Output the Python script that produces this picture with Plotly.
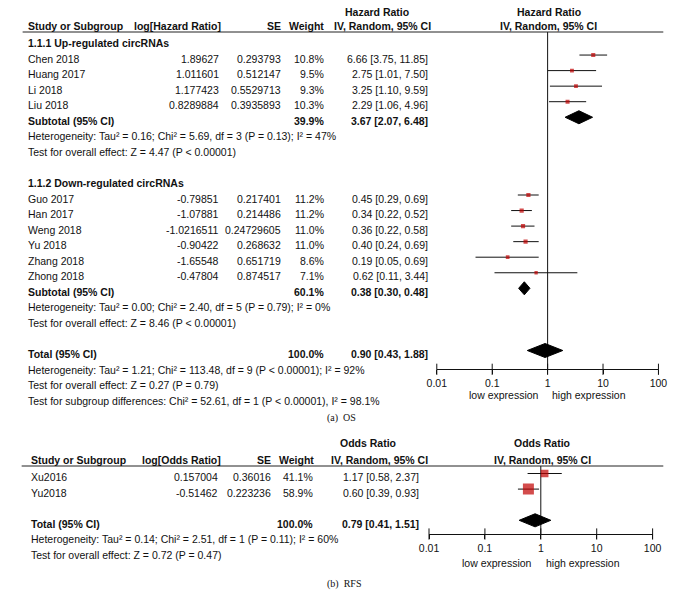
import plotly.graph_objects as go

# ---------------- data: (a) OS ----------------
up_studies = ["Chen 2018", "Huang 2017", "Li 2018", "Liu 2018"]
up_loghr = [1.89627, 1.011601, 1.177423, 0.8289884]
up_se = [0.293793, 0.512147, 0.5529713, 0.3935893]
up_weight = [10.8, 9.5, 9.3, 10.3]
up_hr = [6.66, 2.75, 3.25, 2.29]
up_lo = [3.75, 1.01, 1.10, 1.06]
up_hi = [11.85, 7.50, 9.59, 4.96]
up_sub = [3.67, 2.07, 6.48]
up_sub_weight = 39.9

down_studies = ["Guo 2017", "Han 2017", "Weng 2018", "Yu 2018", "Zhang 2018", "Zhong 2018"]
down_loghr = [-0.79851, -1.07881, -1.0216511, -0.90422, -1.65548, -0.47804]
down_se = [0.217401, 0.214486, 0.24729605, 0.268632, 0.651719, 0.874517]
down_weight = [11.2, 11.2, 11.0, 11.0, 8.6, 7.1]
down_hr = [0.45, 0.34, 0.36, 0.40, 0.19, 0.62]
down_lo = [0.29, 0.22, 0.22, 0.24, 0.05, 0.11]
down_hi = [0.69, 0.52, 0.58, 0.69, 0.69, 3.44]
down_sub = [0.38, 0.30, 0.48]
down_sub_weight = 60.1

os_total = [0.90, 0.43, 1.88]
os_total_weight = 100.0

up_stats = ["Heterogeneity: Tau² = 0.16; Chi² = 5.69, df = 3 (P = 0.13); I² = 47%",
            "Test for overall effect: Z = 4.47 (P < 0.00001)"]
down_stats = ["Heterogeneity: Tau² = 0.00; Chi² = 2.40, df = 5 (P = 0.79); I² = 0%",
              "Test for overall effect: Z = 8.46 (P < 0.00001)"]
os_stats = ["Heterogeneity: Tau² = 1.21; Chi² = 113.48, df = 9 (P < 0.00001); I² = 92%",
            "Test for overall effect: Z = 0.27 (P = 0.79)",
            "Test for subgroup differences: Chi² = 52.61, df = 1 (P < 0.00001), I² = 98.1%"]

# ---------------- data: (b) RFS ----------------
rfs_studies = ["Xu2016", "Yu2018"]
rfs_logor = [0.157004, -0.51462]
rfs_se = [0.36016, 0.223236]
rfs_weight = [41.1, 58.9]
rfs_or = [1.17, 0.60]
rfs_lo = [0.58, 0.39]
rfs_hi = [2.37, 0.93]
rfs_total = [0.79, 0.41, 1.51]
rfs_total_weight = 100.0
rfs_stats = ["Heterogeneity: Tau² = 0.14; Chi² = 2.51, df = 1 (P = 0.11); I² = 60%",
             "Test for overall effect: Z = 0.72 (P = 0.47)"]

tick_vals = [0.01, 0.1, 1, 10, 100]
tick_text = ["0.01", "0.1", "1", "10", "100"]

# ---------------- layout helpers ----------------
W, H = 683, 606
FONT = "Liberation Sans, Arial, sans-serif"
FS = 10.5
RED = "#C00000"

def px(x):
    return x / W

def py(y):
    return 1 - y / H

annotations = []

def txt(x, y, s, anchor="left", bold=False, size=FS, family=FONT):
    annotations.append(dict(
        x=px(x), y=py(y), xref="paper", yref="paper", text=s, showarrow=False,
        xanchor=anchor, yanchor="middle", borderpad=0,
        font=dict(family=family, size=size, color="#111", weight="bold" if bold else "normal")))

def ci_str(e, l, h):
    return f"{e:.2f} [{l:.2f}, {h:.2f}]"

fig = go.Figure()

# ---------- panel (a) geometry ----------
A_ROW0, A_STEP, A_OFF = 43.0, 15.55, 3.5
A_TOP, A_BOT = 32.0, 369.3
def a_row_px(r):
    return A_ROW0 + A_STEP * r
a_rtop = (A_TOP - (A_ROW0 - A_OFF)) / A_STEP
a_rbot = (A_BOT - (A_ROW0 - A_OFF)) / A_STEP

# ---------- panel (b) geometry ----------
B_ROW0, B_STEP, B_OFF = 477.0, 15.6, 3.5
B_TOP, B_BOT = 466.0, 534.0
def b_row_px(r):
    return B_ROW0 + B_STEP * r
b_rtop = (B_TOP - (B_ROW0 - B_OFF)) / B_STEP
b_rbot = (B_BOT - (B_ROW0 - B_OFF)) / B_STEP

# ---------- text table (a) ----------
A_COL = dict(study=17, log=216, se=280, w=324, ci=431)
txt(377, 12, "Hazard Ratio", "center", bold=True)
txt(554, 12, "Hazard Ratio", "center", bold=True)
txt(A_COL["study"], 25.5, "Study or Subgroup", "left", bold=True)
txt(218, 25.5, "log[Hazard Ratio]", "right", bold=True)
txt(A_COL["se"], 25.5, "SE", "right", bold=True)
txt(A_COL["w"], 25.5, "Weight", "right", bold=True)
txt(434, 25.5, "IV, Random, 95% CI", "right", bold=True)
txt(554, 25.5, "IV, Random, 95% CI", "center", bold=True)

txt(A_COL["study"], a_row_px(0), "1.1.1 Up-regulated circRNAs", "left", bold=True)
up_rows = [1, 2, 3, 4]
for i, r in enumerate(up_rows):
    y = a_row_px(r)
    txt(A_COL["study"], y, up_studies[i])
    txt(A_COL["log"], y, str(up_loghr[i]), "right")
    txt(A_COL["se"], y, str(up_se[i]), "right")
    txt(A_COL["w"], y, f"{up_weight[i]:.1f}%", "right")
    txt(A_COL["ci"], y, ci_str(up_hr[i], up_lo[i], up_hi[i]), "right")
txt(A_COL["study"], a_row_px(5), "Subtotal (95% CI)", "left", bold=True)
txt(A_COL["w"], a_row_px(5), f"{up_sub_weight:.1f}%", "right", bold=True)
txt(A_COL["ci"], a_row_px(5), ci_str(*up_sub), "right", bold=True)
for k, s in enumerate(up_stats):
    txt(A_COL["study"], a_row_px(6 + k), s)

txt(A_COL["study"], a_row_px(9), "1.1.2 Down-regulated circRNAs", "left", bold=True)
down_rows = [10, 11, 12, 13, 14, 15]
for i, r in enumerate(down_rows):
    y = a_row_px(r)
    txt(A_COL["study"], y, down_studies[i])
    txt(A_COL["log"], y, str(down_loghr[i]), "right")
    txt(A_COL["se"], y, str(down_se[i]), "right")
    txt(A_COL["w"], y, f"{down_weight[i]:.1f}%", "right")
    txt(A_COL["ci"], y, ci_str(down_hr[i], down_lo[i], down_hi[i]), "right")
txt(A_COL["study"], a_row_px(16), "Subtotal (95% CI)", "left", bold=True)
txt(A_COL["w"], a_row_px(16), f"{down_sub_weight:.1f}%", "right", bold=True)
txt(A_COL["ci"], a_row_px(16), ci_str(*down_sub), "right", bold=True)
for k, s in enumerate(down_stats):
    txt(A_COL["study"], a_row_px(17 + k), s)

txt(A_COL["study"], a_row_px(20), "Total (95% CI)", "left", bold=True)
txt(A_COL["w"], a_row_px(20), f"{os_total_weight:.1f}%", "right", bold=True)
txt(A_COL["ci"], a_row_px(20), ci_str(*os_total), "right", bold=True)
for k, s in enumerate(os_stats):
    txt(A_COL["study"], a_row_px(21 + k), s)

txt(545, 395, "low expression", "right")
txt(556, 395, "high expression", "left")
txt(341, 418, "(a)  OS", "center", size=10, family="Liberation Serif, Times New Roman, serif")

# ---------- text table (b) ----------
B_COL = dict(study=21, log=215, se=269, w=313, ci=422)
txt(368, 443, "Odds Ratio", "center", bold=True)
txt(547, 443, "Odds Ratio", "center", bold=True)
txt(B_COL["study"], 459.5, "Study or Subgroup", "left", bold=True)
txt(218, 459.5, "log[Odds Ratio]", "right", bold=True)
txt(B_COL["se"], 459.5, "SE", "right", bold=True)
txt(B_COL["w"] + 1, 459.5, "Weight", "right", bold=True)
txt(431, 459.5, "IV, Random, 95% CI", "right", bold=True)
txt(548, 459.5, "IV, Random, 95% CI", "center", bold=True)
for i in range(len(rfs_studies)):
    y = b_row_px(i)
    txt(B_COL["study"], y, rfs_studies[i])
    txt(B_COL["log"], y, str(rfs_logor[i]), "right")
    txt(B_COL["se"], y, str(rfs_se[i]), "right")
    txt(B_COL["w"], y, f"{rfs_weight[i]:.1f}%", "right")
    txt(B_COL["ci"], y, ci_str(rfs_or[i], rfs_lo[i], rfs_hi[i]), "right")
txt(B_COL["study"], b_row_px(3), "Total (95% CI)", "left", bold=True)
txt(B_COL["w"], b_row_px(3), f"{rfs_total_weight:.1f}%", "right", bold=True)
txt(B_COL["ci"], b_row_px(3), ci_str(*rfs_total), "right", bold=True)
for k, s in enumerate(rfs_stats):
    txt(B_COL["study"], b_row_px(4 + k), s)
txt(538, 563, "low expression", "right")
txt(550, 563, "high expression", "left")
txt(344, 584, "(b)  RFS", "center", size=10, family="Liberation Serif, Times New Roman, serif")

# ---------- header rules ----------
shapes = [
    dict(type="line", xref="paper", yref="paper", x0=px(13), x1=px(672), y0=py(32), y1=py(32),
         line=dict(color="#222", width=1)),
    dict(type="line", xref="paper", yref="paper", x0=px(12), x1=px(672), y0=py(466), y1=py(466),
         line=dict(color="#222", width=1)),
]

# ---------- graphics helpers ----------
def add_ci(xax, yax, est, lo, hi, rows, sizes):
    for e, l, h, r in zip(est, lo, hi, rows):
        fig.add_trace(go.Scatter(x=[l, h], y=[r, r], mode="lines", xaxis=xax, yaxis=yax,
                                 line=dict(color="#111", width=1), hoverinfo="skip", showlegend=False))
    fig.add_trace(go.Scatter(x=est, y=rows, mode="markers", xaxis=xax, yaxis=yax,
                             marker=dict(symbol="square", size=sizes, color=RED, line=dict(width=0)),
                             showlegend=False))

def add_diamond(xax, yax, est, lo, hi, r, hh):
    fig.add_trace(go.Scatter(x=[lo, est, hi, est, lo], y=[r, r - hh, r, r + hh, r],
                             mode="lines", fill="toself", fillcolor="black", xaxis=xax, yaxis=yax,
                             line=dict(color="black", width=1), hoverinfo="skip", showlegend=False))

def add_axis_frame(xax, yax, rtop, rbot):
    fig.add_trace(go.Scatter(x=[1, 1], y=[rtop, rbot], mode="lines", xaxis=xax, yaxis=yax,
                             line=dict(color="#111", width=1), hoverinfo="skip", showlegend=False))
    fig.add_trace(go.Scatter(x=tick_vals, y=[rbot] * len(tick_vals), mode="markers", xaxis=xax, yaxis=yax,
                             marker=dict(symbol="line-ns", size=8, line=dict(color="#111", width=1)),
                             cliponaxis=False, hoverinfo="skip", showlegend=False))

# panel (a)
add_axis_frame("x", "y", a_rtop, a_rbot)
amax = max(up_weight + down_weight)
add_ci("x", "y", up_hr, up_lo, up_hi, up_rows, [4.2 * (w / amax) ** 0.5 for w in up_weight])
add_diamond("x", "y", up_sub[0], up_sub[1], up_sub[2], 5, 0.42)
add_ci("x", "y", down_hr, down_lo, down_hi, down_rows, [4.2 * (w / amax) ** 0.5 for w in down_weight])
add_diamond("x", "y", down_sub[0], down_sub[1], down_sub[2], 16, 0.42)
add_diamond("x", "y", os_total[0], os_total[1], os_total[2], 20, 0.45)

# panel (b)
add_axis_frame("x2", "y2", b_rtop, b_rbot)
bmax = max(rfs_weight)
add_ci("x2", "y2", rfs_or, rfs_lo, rfs_hi, [0, 1], [11 * w / bmax for w in rfs_weight])
add_diamond("x2", "y2", rfs_total[0], rfs_total[1], rfs_total[2], 3, 0.42)

axis_common = dict(type="log", range=[-2, 2], tickvals=tick_vals, ticktext=tick_text,
                   showgrid=False, zeroline=False, showline=True, linecolor="#111", linewidth=1,
                   ticks="outside", ticklen=4, tickcolor="#111",
                   tickfont=dict(family=FONT, size=FS, color="#111"), fixedrange=True)

fig.update_layout(
    width=W, height=H, autosize=False,
    margin=dict(l=0, r=0, t=0, b=0),
    paper_bgcolor="white", plot_bgcolor="rgba(0,0,0,0)",
    showlegend=False,
    xaxis=dict(domain=[px(439), px(667)], anchor="y", **axis_common),
    yaxis=dict(domain=[py(A_BOT), py(A_TOP)], range=[a_rbot, a_rtop], visible=False, fixedrange=True),
    xaxis2=dict(domain=[px(431), px(661)], anchor="y2", **axis_common),
    yaxis2=dict(domain=[py(B_BOT), py(B_TOP)], range=[b_rbot, b_rtop], visible=False, fixedrange=True),
    annotations=annotations,
    shapes=shapes,
)

fig.write_html("out.html", config={"displayModeBar": False},
               post_script="document.body.style.margin='0';document.body.style.padding='0';")
